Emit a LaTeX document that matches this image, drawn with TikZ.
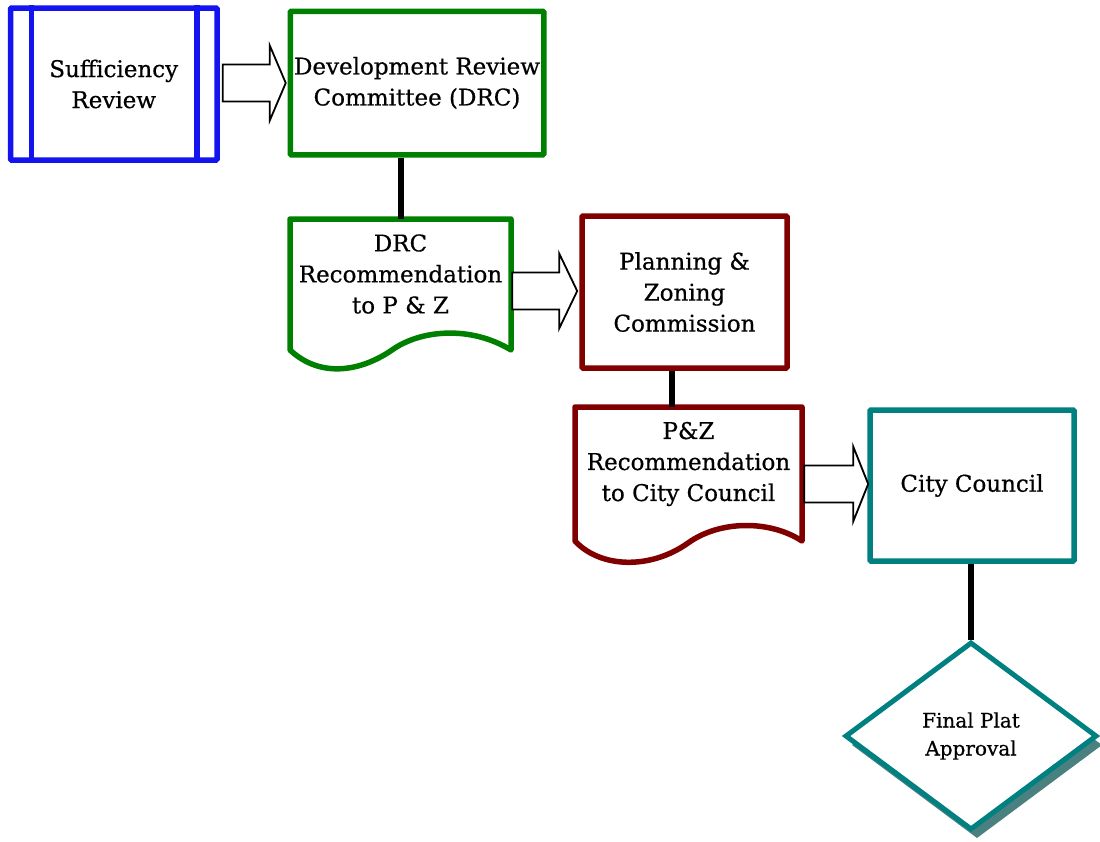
\documentclass[tikz,border=0pt]{standalone}
\usepackage{fontspec}
\setmainfont{DejaVu Serif}[FakeBold=0.6]
\usetikzlibrary{shapes.geometric,shadows,calc}
\definecolor{cblue}{RGB}{20,20,240}
\definecolor{cgreen}{RGB}{0,128,0}
\definecolor{cred}{RGB}{128,0,0}
\definecolor{cteal}{RGB}{0,128,128}
\definecolor{cshadow}{RGB}{74,128,128}
\tikzset{
  x=1pt,y=-1pt,
  txt/.style={align=center,font=\fontsize{23}{31}\selectfont,inner sep=0pt},
  box/.style={txt,draw,line width=5.5pt,rounded corners=1pt},
  link/.style={line width=6pt,black},
  blockarrow/.style={draw=black,fill=white,line width=1.8pt,line join=miter},
  docline/.style={line width=5.5pt,line join=round}
}
\begin{document}
\begin{tikzpicture}
\useasboundingbox (0,0) rectangle (1100,841);
% Sufficiency review (predefined process)
\node[box,draw=cblue,minimum width=206.5pt,minimum height=152pt] (suff) at (113.75,84) {Sufficiency\\Review};
\draw[cblue,line width=5.5pt] ($(suff.north west)+(23.5,0)$) -- ($(suff.south west)+(23.5,0)$);
\draw[cblue,line width=5.5pt] ($(suff.north east)+(-23,0)$) -- ($(suff.south east)+(-23,0)$);
% DRC
\node[box,draw=cgreen,minimum width=253.5pt,minimum height=143.5pt] (drc) at (417,83) {Development Review\\Committee (DRC)};
% DRC recommendation document
\node[txt,minimum width=221pt,minimum height=110pt] (doc1) at (400.5,274) {DRC\\Recommendation\\to P \& Z};
\draw[docline,cgreen] (290,350) -- (290,219) -- (511,219) -- (511,350)
  .. controls (470,325) and (420,330) .. (392,350)
  .. controls (360,372) and (320,378) .. (290,350) -- cycle;
% Planning & Zoning
\node[box,draw=cred,minimum width=205pt,minimum height=152pt] (pz) at (684.5,292) {Planning \&\\Zoning\\Commission};
% P&Z recommendation document
\node[txt,minimum width=227pt,minimum height=114pt] (doc2) at (688.5,464) {P\&Z\\Recommendation\\to City Council};
\draw[docline,cred] (575,541) -- (575,407) -- (802,407) -- (802,541)
  .. controls (770,520) and (720,520) .. (688,543)
  .. controls (650,570) and (600,568) .. (575,541) -- cycle;
% City council
\node[box,draw=cteal,minimum width=204pt,minimum height=151pt] (cc) at (972,485.5) {City Council};
% Final plat approval
\node[diamond,draw=cteal,line width=5pt,fill=white,minimum width=252pt,minimum height=188pt,inner sep=0pt,
  align=center,font=\fontsize{20}{28}\selectfont,
  drop shadow={shadow xshift=6pt,shadow yshift=-9pt,fill=cshadow,opacity=1}] (fpa) at (971,736) {Final Plat\\Approval};
% connectors
\draw[link] (drc.south -| doc1.north) -- (doc1.north);
\draw[link] (pz.south -| 672,0) -- (doc2.north -| 672,0);
\draw[link] (cc.south -| fpa.north) -- (fpa.north);
% block arrows
\coordinate (a1) at ($(suff.east)+(3,-1)$);
\draw[blockarrow] (a1) ++(0,-18.5) -- ++(47,0) -- ++(0,-19) -- ++(16,37.5) -- ++(-16,37.5) -- ++(0,-19) -- ++(-47,0) -- cycle;
\coordinate (a2) at (doc1.east |- 0,291);
\draw[blockarrow] (a2) ++(1,-18.5) -- ++(47,0) -- ++(0,-19) -- ++(18,37.5) -- ++(-18,37.5) -- ++(0,-19) -- ++(-47,0) -- cycle;
\coordinate (a3) at (doc2.east |- 0,484);
\draw[blockarrow] (a3) ++(2,-18.5) -- ++(49,0) -- ++(0,-19) -- ++(15,37.5) -- ++(-15,37.5) -- ++(0,-19) -- ++(-49,0) -- cycle;
\end{tikzpicture}
\end{document}
